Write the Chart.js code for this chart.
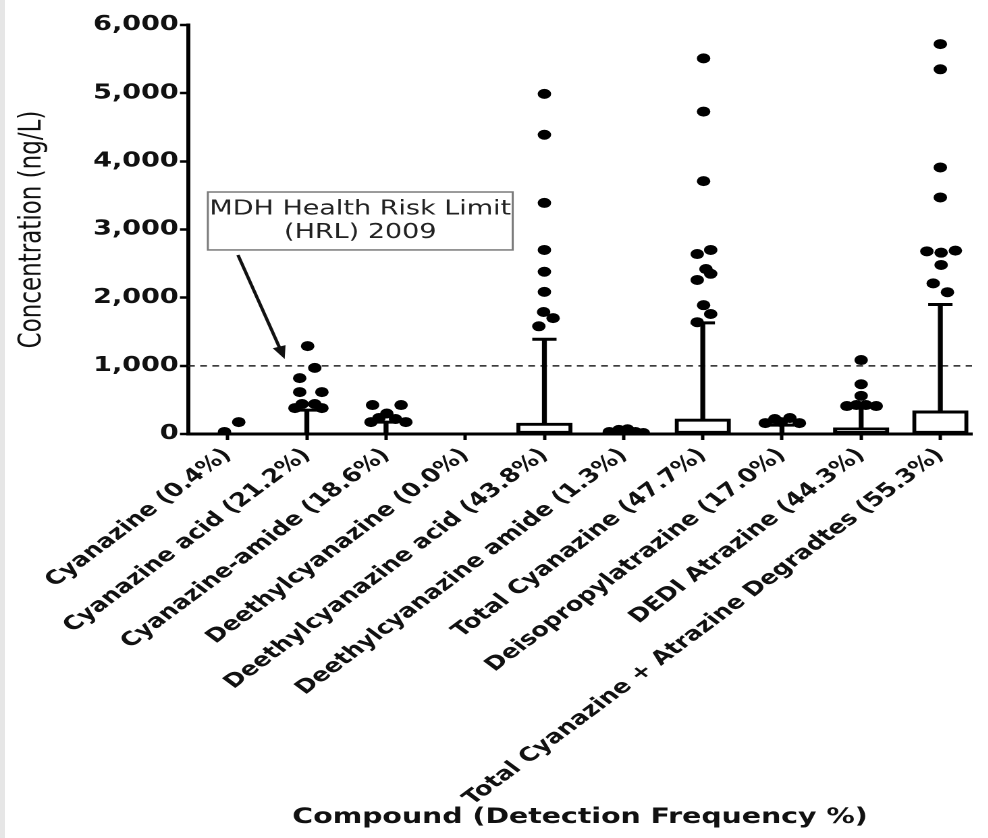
<!DOCTYPE html>
<html>
<head>
<meta charset="utf-8">
<script src="https://cdn.jsdelivr.net/npm/chart.js@4.4.1/dist/chart.umd.min.js"></script>
<style>
  html, body { margin: 0; padding: 0; background: #fff; overflow: hidden; }
  #wrap { position: absolute; left: 0; top: 0; width: 732px; height: 838px; transform: scaleX(1.35); transform-origin: 0 0; }
  #edge { position: absolute; left: 0; top: 0; width: 5px; height: 838px; background: #e6e6e6; }
</style>
</head>
<body>
<div id="wrap"><canvas id="boxChart"></canvas></div>
<div id="edge"></div>
<script>
/* ================= DATA ================= */

const compounds = [
    "Cyanazine (0.4%)",
    "Cyanazine acid (21.2%)",
    "Cyanazine-amide (18.6%)",
    "Deethylcyanazine (0.0%)",
    "Deethylcyanazine acid (43.8%)",
    "Deethylcyanazine amide (1.3%)",
    "Total Cyanazine (47.7%)",
    "Deisopropylatrazine (17.0%)",
    "DEDI Atrazine (44.3%)",
    "Total Cyanazine + Atrazine Degradtes (55.3%)"
];

// box = lower / upper quartile, whisker = upper whisker end (ng/L)
const boxLow = [0, 0, 0, 0, 0, 0, 0, 0, 0, 0];
const boxHigh = [0, 0, 0, 0, 160, 0, 220, 0, 90, 340];
const whiskerHigh = [0, 350, 175, 0, 1390, 0, 1630, 130, 420, 1900];

// points beyond the whiskers, with their horizontal spread
const outlierValues = [
    [30, 175],
    [1290, 970, 820, 615, 615, 440, 440, 380, 380],
    [425, 425, 300, 235, 220, 175, 175],
    [],
    [4990, 4390, 3390, 2700, 2380, 2085, 1790, 1700, 1580],
    [30, 60, 70, 30, 15],
    [5510, 4730, 3710, 2700, 2640, 2420, 2350, 2260, 1890, 1760, 1640],
    [160, 220, 175, 235, 160],
    [1085, 730, 560, 425, 425, 410, 410],
    [5720, 5350, 3910, 3470, 2680, 2660, 2690, 2480, 2210, 2080]
];
const outlierJitter = [
    [-0.04, 0.14],
    [0.01, 0.10, -0.09, -0.09, 0.19, -0.06, 0.10, -0.15, 0.19],
    [-0.17, 0.19, 0.01, -0.09, 0.12, -0.19, 0.25],
    [],
    [0, 0, 0, 0, 0, 0, -0.01, 0.11, -0.07],
    [-0.18, -0.06, 0.05, 0.15, 0.25],
    [0.01, 0.01, 0.01, 0.10, -0.07, 0.04, 0.10, -0.07, 0.01, 0.10, -0.07],
    [-0.21, -0.09, -0.01, 0.10, 0.22],
    [0, 0, 0, -0.06, 0.06, -0.18, 0.19],
    [0, 0, 0, 0, -0.17, 0.01, 0.19, 0.01, -0.09, 0.09]
];

const hrlLimit = 1000;
const yTicks = [0, 1000, 2000, 3000, 4000, 5000, 6000];


/* ================= HRL NOTE (box + arrow) ================= */

const hrlNote = {
    id: "hrlNote",
    afterDatasetsDraw(chart, args, opts) {
        const {ctx, scales: {x, y}} = chart;
        const bx0 = x.getPixelForValue(opts.box[0]);
        const by0 = y.getPixelForValue(opts.box[1]);
        const bx1 = x.getPixelForValue(opts.box[2]);
        const by1 = y.getPixelForValue(opts.box[3]);

        ctx.save();
        ctx.fillStyle = "#ffffff";
        ctx.strokeStyle = "#7a7a7a";
        ctx.lineWidth = 1.5;
        ctx.fillRect(bx0, by0, bx1 - bx0, by1 - by0);
        ctx.strokeRect(bx0, by0, bx1 - bx0, by1 - by0);

        ctx.fillStyle = "#222";
        ctx.font = "20px 'DejaVu Sans'";
        ctx.textAlign = "center";
        ctx.textBaseline = "middle";
        opts.lines.forEach((t, i) => {
            ctx.fillText(t, (bx0 + bx1) / 2, y.getPixelForValue(opts.lineY[i]));
        });

        // arrow
        const ax0 = x.getPixelForValue(opts.arrow[0]);
        const ay0 = y.getPixelForValue(opts.arrow[1]);
        const ax1 = x.getPixelForValue(opts.arrow[2]);
        const ay1 = y.getPixelForValue(opts.arrow[3]);
        const ang = Math.atan2(ay1 - ay0, ax1 - ax0);
        ctx.strokeStyle = "#111";
        ctx.lineWidth = 2.5;
        ctx.beginPath();
        ctx.moveTo(ax0, ay0);
        ctx.lineTo(ax1 - 8 * Math.cos(ang), ay1 - 8 * Math.sin(ang));
        ctx.stroke();
        ctx.fillStyle = "#111";
        ctx.beginPath();
        ctx.moveTo(ax1, ay1);
        ctx.lineTo(ax1 - 13 * Math.cos(ang) + 5 * Math.sin(ang), ay1 - 13 * Math.sin(ang) - 5 * Math.cos(ang));
        ctx.lineTo(ax1 - 13 * Math.cos(ang) - 5 * Math.sin(ang), ay1 - 13 * Math.sin(ang) + 5 * Math.cos(ang));
        ctx.closePath();
        ctx.fill();
        ctx.restore();
    }
};


/* ================= BOX PLOT ================= */

new Chart(document.getElementById("boxChart"), {

    type: "bar",

    data: {
        datasets: [
            {
                type: "scatter",
                label: "Outliers",
                data: compounds.flatMap((c, i) => outlierValues[i].map((v, k) => ({x: i + outlierJitter[i][k], y: v}))),
                backgroundColor: "#000",
                borderColor: "#000",
                pointRadius: 5,
                pointBorderWidth: 0,
                order: 0
            },
            {
                type: "scatter",
                label: "Whisker caps",
                data: compounds.map((c, i) => ({x: i, y: whiskerHigh[i]})).filter((p, i) => whiskerHigh[i] > boxHigh[i]),
                pointStyle: "line",
                pointRadius: 9,
                borderColor: "#000",
                pointBorderWidth: 3,
                order: 1
            },
            {
                label: "Whiskers",
                data: compounds.map((c, i) => ({x: i, y: [boxHigh[i], whiskerHigh[i]]})),
                backgroundColor: "#000",
                borderWidth: 0,
                barThickness: 3,
                grouped: false,
                order: 2
            },
            {
                label: "Boxes",
                data: compounds.map((c, i) => ({x: i, y: [boxLow[i], boxHigh[i]]})),
                backgroundColor: "#fff",
                borderColor: "#000",
                borderWidth: 3,
                borderSkipped: false,
                barThickness: 41,
                grouped: false,
                order: 3
            },
            {
                type: "line",
                label: "HRL",
                data: [{x: -0.5, y: hrlLimit}, {x: 9.4, y: hrlLimit}],
                borderColor: "#222",
                borderWidth: 1.5,
                borderDash: [5, 4],
                pointRadius: 0,
                order: 4
            }
        ]
    },

    plugins: [hrlNote],

    options: {
        responsive: true,
        maintainAspectRatio: false,
        animation: false,
        devicePixelRatio: 2,

        layout: {
            padding: {top: 25, left: 0, right: 0, bottom: 0}
        },

        plugins: {
            legend: {display: false},
            tooltip: {enabled: false},
            hrlNote: {
                box: [-0.25, 3550, 3.6, 2700],
                lines: ["MDH Health Risk Limit", "(HRL) 2009"],
                lineY: [3300, 2950],
                arrow: [0.13, 2626, 0.72, 1100]
            }
        },

        scales: {
            x: {
                type: "linear",
                min: -0.5,
                max: 9.4,
                offset: false,
                afterBuildTicks: (scale) => {
                    scale.ticks = compounds.map((c, i) => ({value: i}));
                },
                afterFit: (scale) => {
                    scale.height = 404;
                },
                border: {color: "#000", width: 3},
                grid: {
                    drawOnChartArea: false,
                    drawTicks: true,
                    tickLength: 6,
                    tickWidth: 2.5,
                    tickColor: "#000",
                    offset: false
                },
                ticks: {
                    autoSkip: false,
                    minRotation: 45,
                    maxRotation: 45,
                    padding: 4,
                    color: "#111",
                    font: {family: "'DejaVu Sans'", size: 19, weight: "bold"},
                    callback: (value) => compounds[value]
                },
                title: {
                    display: true,
                    text: "Compound (Detection Frequency %)",
                    align: "center",
                    color: "#111",
                    font: {family: "'DejaVu Sans'", size: 21, weight: "bold"},
                    padding: {top: 0, bottom: 8}
                }
            },

            y: {
                min: 0,
                max: 6000,
                afterBuildTicks: (scale) => {
                    scale.ticks = yTicks.map(v => ({value: v}));
                },
                afterFit: (scale) => {
                    scale.width = 139.3;
                },
                border: {color: "#000", width: 3},
                grid: {
                    drawOnChartArea: false,
                    drawTicks: true,
                    tickLength: 6,
                    tickWidth: 2.5,
                    tickColor: "#000"
                },
                ticks: {
                    padding: 1,
                    color: "#111",
                    font: {family: "'DejaVu Sans'", size: 20, weight: "bold"},
                    callback: (value) => value.toLocaleString("en-US")
                },
                title: {
                    display: true,
                    text: "Concentration (ng/L)",
                    color: "#111",
                    font: {family: "'DejaVu Sans'", size: 23},
                    padding: {top: 10, bottom: 0}
                }
            }
        }
    }

});
</script>
</body>
</html>
